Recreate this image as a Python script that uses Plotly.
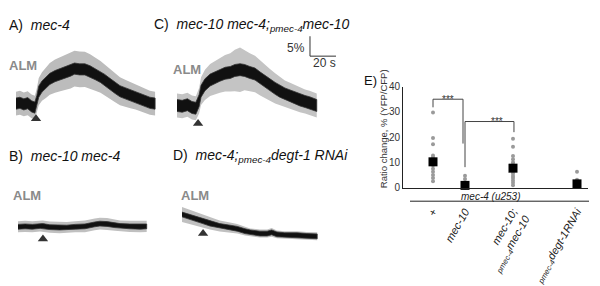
import plotly.graph_objects as go

W, H = 600, 286
PX_S = 1.3   # pixels per second (trace panels)
PX_P = 4.2   # pixels per % (trace panels)
FONT = "Liberation Sans, Arial, sans-serif"

# ---------------- trace data (time in s, ratio change in %) ----------------
A_t = [0, 3, 6, 9, 12, 14.5, 16, 17.5, 20, 23, 26, 30, 34, 38, 42, 45, 49, 53, 57, 61,
       65, 68, 72, 76, 80, 84, 88, 92, 95, 99, 103, 107]
A_v = [0, 0.2, -0.2, 0.1, -0.7, -1.0, 0.6, 3.0, 4.3, 5.2, 6.2, 6.9, 7.4, 7.9, 8.3, 8.8,
       8.6, 8.6, 8.1, 7.4, 6.7, 6.0, 5.0, 4.0, 3.1, 2.6, 2.1, 1.7, 1.2, 0.7, 0.2, 0.0]
A_sem = [3.0, 3.0, 3.0, 3.0, 3.0, 3.0, 3.2, 3.4, 3.6, 3.8, 4.0, 4.2, 4.3, 4.4, 4.5, 4.5,
         4.5, 4.4, 4.3, 4.2, 4.0, 3.9, 3.8, 3.6, 3.5, 3.4, 3.3, 3.2, 3.1, 3.0, 3.0, 3.0]

C_t = [0, 4, 8, 11.5, 14.5, 17, 18.5, 21.5, 25.5, 29, 33, 37, 41, 44.5, 48.5, 52, 56, 60,
       64, 67.5, 71.5, 75.5, 79, 83, 87, 91, 94.5, 98.5, 102, 107.5]
C_v = [0, -0.2, 0.2, -0.5, -0.7, 1.2, 3.6, 5.2, 6.4, 6.9, 7.6, 8.1, 8.3, 8.8, 9.0, 8.8,
       8.3, 7.9, 6.9, 6.0, 5.2, 4.3, 3.6, 2.9, 2.4, 1.9, 1.4, 1.0, 0.7, 0]
C_sem = [3.0, 3.0, 3.0, 3.0, 3.0, 3.2, 3.5, 3.8, 4.0, 4.2, 4.4, 4.6, 4.8, 5.2, 5.6, 5.0,
         4.8, 4.6, 4.4, 4.2, 4.0, 3.8, 3.6, 3.4, 3.3, 3.2, 3.1, 3.0, 3.0, 3.0]

B_t = [0, 5.5, 11, 17, 19, 24.5, 32, 37.5, 44, 51.5, 59, 63, 68.5, 74.5, 78.5, 86, 94, 99]
B_v = [0, 0.1, 0, 0.2, 0.2, -0.1, -0.2, -0.2, 0, 0.1, 0.6, 0.8, 0.7, 0.4, 0.2, 0.1, 0, 0.1]
B_sem = [1.4, 1.4, 1.4, 1.4, 1.4, 1.4, 1.4, 1.4, 1.4, 1.5, 1.5, 1.5, 1.5, 1.4, 1.4, 1.4, 1.4, 1.4]

D_t = [0, 6, 11.5, 16, 21.5, 29, 37, 42.5, 48.5, 52.5, 60, 65.5, 69, 73, 79, 88.5, 96, 104]
D_v = [0, -0.6, -1.2, -1.7, -2.3, -2.9, -3.3, -3.6, -4.2, -4.5, -4.8, -4.8, -4.5, -5.0,
       -5.2, -5.2, -5.4, -5.5]
D_sem = [1.9, 1.8, 1.7, 1.6, 1.5, 1.4, 1.3, 1.2, 1.1, 1.0, 1.0, 1.0, 1.1, 1.0, 1.0, 1.0, 1.0, 1.0]

stim_t = [15.4, 16.2, 19.2, 16.2]     # A, C, B, D

# ---------------- panel E data ----------------
groups = ["+", "<i>mec-10</i>", "<i>mec-10;</i><br><i><sub>pmec-4</sub>mec-10</i>",
          "<i><sub>pmec-4</sub>degt-1RNAi</i>"]
group_pos = [0, 2, 5, 9]
dots = [
    [29.8, 19.7, 17.2, 12.8, 12.0, 11.2, 10.0, 8.9, 7.6, 6.4, 5.1, 3.9, 2.6],
    [4.8, 3.5, 2.2, 1.5, 0.6, 0.2],
    [19.4, 16.2, 12.6, 11.3, 10.1, 9.2, 8.5, 6.6, 5.7, 4.7, 3.9, 2.9, 2.0, 1.1],
    [6.4, 3.2, 2.2, 1.2, 0.5],
]
means = [10.3, 1.0, 7.8, 1.6]
y_ticks = [0, 10, 20, 30, 40]


def px(x, y):
    return x / W, 1 - y / H


fig = go.Figure()
layout_axes = {}

# panels: (suffix, box left, right, top, bottom px, pixel of t=0, pixel of 0 %)
panels = {
    "A": ("", 10, 160, 35, 135, 16, 103),
    "C": ("2", 170, 345, 25, 135, 177, 105),
    "B": ("3", 10, 160, 205, 262, 18, 233),
    "D": ("4", 170, 330, 205, 262, 182, 220),
}
series = {
    "A": (A_t, A_v, A_sem, 1.4, stim_t[0], -3.8, "#bcbcbc"),
    "C": (C_t, C_v, C_sem, 1.5, stim_t[1], -4.5, "#c4c4c4"),
    "B": (B_t, B_v, B_sem, 0.6, stim_t[2], -3.1, "#c0c0c0"),
    "D": (D_t, D_v, D_sem, 0.6, stim_t[3], -4.8, "#c0c0c0"),
}

for key, (sfx, l, r, t, b, t0px, basepx) in panels.items():
    layout_axes["xaxis" + sfx] = dict(
        domain=[l / W, r / W], range=[(l - t0px) / PX_S, (r - t0px) / PX_S],
        visible=False, anchor="y" + sfx, fixedrange=True)
    layout_axes["yaxis" + sfx] = dict(
        domain=[1 - b / H, 1 - t / H], range=[(basepx - b) / PX_P, (basepx - t) / PX_P],
        visible=False, anchor="x" + sfx, fixedrange=True)
    tt, vv, ss, hw, st, tri_v, gcol = series[key]
    xr, yr = "x" + sfx, "y" + sfx
    up = [v + s for v, s in zip(vv, ss)]
    lo = [v - s for v, s in zip(vv, ss)]
    fig.add_trace(go.Scatter(x=tt + tt[::-1], y=up + lo[::-1], fill="toself",
                             fillcolor=gcol, line=dict(width=0), mode="lines",
                             xaxis=xr, yaxis=yr, hoverinfo="skip", showlegend=False))
    upb = [v + hw for v in vv]
    lob = [v - hw for v in vv]
    fig.add_trace(go.Scatter(x=tt + tt[::-1], y=upb + lob[::-1], fill="toself",
                             fillcolor="#111111", line=dict(width=0.8, color="#333333"),
                             mode="lines", xaxis=xr, yaxis=yr, hoverinfo="skip",
                             showlegend=False))
    fig.add_trace(go.Scatter(x=[st], y=[tri_v], mode="markers",
                             marker=dict(symbol="triangle-up", size=9, color="#333333"),
                             xaxis=xr, yaxis=yr, hoverinfo="skip", showlegend=False))

# scale bar (in panel C units: 5 % and 20 s)
sb_t, sb_v = 102.3, 12.4
fig.add_trace(go.Scatter(x=[sb_t, sb_t, sb_t + 20], y=[sb_v + 5, sb_v, sb_v], mode="lines",
                         line=dict(color="#333333", width=1), xaxis="x2", yaxis="y2",
                         hoverinfo="skip", showlegend=False))

# ---------------- panel E ----------------
e_l, e_r, e_t, e_b = 403, 588, 85, 192
PX_G = 16.0
x0_px = 433
layout_axes["xaxis5"] = dict(
    domain=[e_l / W, e_r / W], range=[(e_l - x0_px) / PX_G, (e_r - x0_px) / PX_G],
    anchor="y5", showline=True, linecolor="#222", linewidth=1, showgrid=False,
    zeroline=False, tickvals=group_pos, ticktext=groups, tickangle=-60, ticks="",
    ticklabelstandoff=12, tickfont=dict(family=FONT, size=11, color="#222"), fixedrange=True)
layout_axes["yaxis5"] = dict(
    domain=[1 - e_b / H, 1 - e_t / H], range=[0, 40], anchor="x5", showline=True,
    linecolor="#222", linewidth=1, showgrid=False, zeroline=False, tickvals=y_ticks,
    ticks="", ticklabelstandoff=0, tickfont=dict(family=FONT, size=10, color="#333"),
    fixedrange=True)

for p, vals in zip(group_pos, dots):
    fig.add_trace(go.Scatter(x=[p] * len(vals), y=vals, mode="markers",
                             marker=dict(size=4, color="#9a9a9a"), xaxis="x5", yaxis="y5",
                             hoverinfo="skip", showlegend=False, cliponaxis=False))
fig.add_trace(go.Scatter(x=group_pos, y=means, mode="markers",
                         marker=dict(symbol="square", size=9, color="#000"), xaxis="x5",
                         yaxis="y5", hoverinfo="skip", showlegend=False, cliponaxis=False))

# significance brackets
brackets = [
    (group_pos[0], 31.8, group_pos[1] - 0.125, 17.5, 35.0),
    (group_pos[1], 8.2, group_pos[2] + 0.06, 22.0, 26.2),
]
for xa, ya, xb, yb, ytop in brackets:
    fig.add_trace(go.Scatter(x=[xa, xa, xb, xb], y=[ya, ytop, ytop, yb], mode="lines",
                             line=dict(color="#444", width=1), xaxis="x5", yaxis="y5",
                             hoverinfo="skip", showlegend=False))

annotations = []


def ann(x, y, text, size, color="#111", xanchor="left", yanchor="middle", angle=0, ref="paper"):
    if ref == "paper":
        xx, yy = px(x, y)
        d = dict(xref="paper", yref="paper", x=xx, y=yy)
    else:
        d = dict(xref=ref[0], yref=ref[1], x=x, y=y)
    d.update(text=text, showarrow=False, xanchor=xanchor, yanchor=yanchor, textangle=angle,
             font=dict(family=FONT, size=size, color=color))
    annotations.append(d)


ann(7, 20, "A)&nbsp; <i>mec-4</i>", 14)
ann(152, 20, "C)&nbsp; <i>mec-10 mec-4;<sub>pmec-4</sub>mec-10</i>", 14)
ann(7, 158, "B)&nbsp; <i>mec-10 mec-4</i>", 14)
ann(171, 158, "D)&nbsp; <i>mec-4;<sub>pmec-4</sub>degt-1 RNAi</i>", 14)
ann(7, 63, "<b>ALM</b>", 13, color="#8a8a8a")
ann(171, 67, "<b>ALM</b>", 13, color="#8a8a8a")
ann(11, 200, "<b>ALM</b>", 13, color="#8a8a8a")
ann(179, 200, "<b>ALM</b>", 13, color="#8a8a8a")
ann(307, 44, "5%", 12, color="#333", xanchor="right")
ann(324, 60, "20 s", 12, color="#333", xanchor="center")
ann(362, 79, "E)", 13)
ann(383, 130, "Ratio change, % (YFP/CFP)", 9.5, color="#333", xanchor="center", angle=-90)
ann(490, 201, "<i>mec-4 (u253)</i>", 10, color="#222", xanchor="center")
ann((group_pos[0] + group_pos[1]) / 2 - 0.06, 35.0, "***", 10, color="#333",
    xanchor="center", ref=("x5", "y5"))
ann((group_pos[1] + group_pos[2]) / 2 + 0.5, 26.2, "***", 10, color="#333",
    xanchor="center", ref=("x5", "y5"))

shapes = [dict(type="line", xref="paper", yref="paper", x0=410 / W, x1=589 / W,
               y0=1 - 206 / H, y1=1 - 206 / H, line=dict(color="#222", width=1))]

fig.update_layout(width=W, height=H, margin=dict(l=0, r=0, t=0, b=0),
                  paper_bgcolor="white", plot_bgcolor="white", showlegend=False,
                  annotations=annotations, shapes=shapes,
                  font=dict(family=FONT), **layout_axes)

css = ("var s=document.createElement('style');"
       "s.textContent='html,body{margin:0;padding:0;overflow:hidden;height:286px;width:600px;}"
       "body>div{height:286px;line-height:0;}';"
       "document.head.appendChild(s);")
fig.write_html("out.html", config={"displayModeBar": False}, post_script=css)
